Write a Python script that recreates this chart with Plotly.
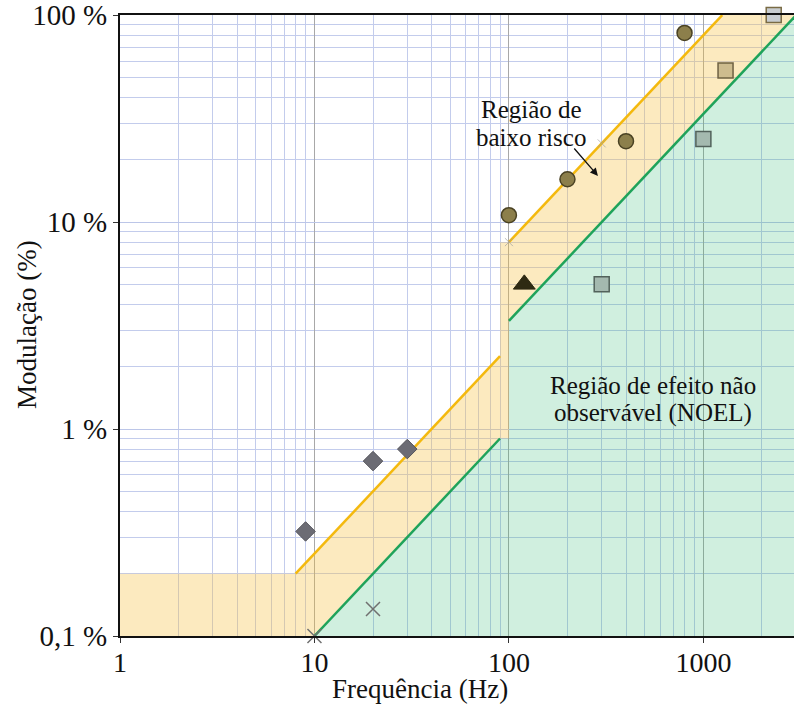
import plotly.graph_objects as go
import math

# ---- data ----
# Limit curves (frequency Hz, modulation %)
low_risk_lo_f = [8, 90]
low_risk_lo_m = [0.2, 2.25]
low_risk_hi_f = [100, 1250]
low_risk_hi_m = [8, 100]
noel_lo_f = [10, 90]
noel_lo_m = [0.1, 0.9]
noel_hi_f = [100, 3000]
noel_hi_m = [3.333, 100]

# region polygons
orange_f = [1, 1, 8, 90, 90, 100, 1250, 3000, 100, 100, 90, 10, 1]
orange_m = [0.1, 0.2, 0.2, 2.25, 8, 8, 100, 100, 3.333, 0.9, 0.9, 0.1, 0.1]
green_f = [10, 90, 100, 100, 3000, 3000, 10]
green_m = [0.1, 0.9, 0.9, 3.333, 100, 0.1, 0.1]

# measured points
diam_f = [9, 20, 30]
diam_m = [0.32, 0.70, 0.80]
cross_f = [10, 20]
cross_m = [0.1, 0.135]
faint_cross_f = [100, 300]
faint_cross_m = [8, 24]
circ_f = [100, 200, 400, 800]
circ_m = [10.8, 16.1, 24.6, 82]
tri_f = [120]
tri_m = [5.0]
sqtan_f = [1300]
sqtan_m = [54]
sqgrey_f = [300, 1000]
sqgrey_m = [5.0, 25.2]
sqtop_f = [2300]
sqtop_m = [100]

x_tickvals = [1, 10, 100, 1000]
x_ticktext = ["1", "10", "100", "1000"]
y_tickvals = [0.1, 1, 10, 100]
y_ticktext = ["0,1 %", "1 %", "10 %", "100 %"]

FONT = "Liberation Serif"
ORANGE = "#F4B90E"
GREEN = "#1FA35A"

fig = go.Figure()

fig.add_trace(go.Scatter(x=orange_f, y=orange_m, mode="lines", fill="toself",
                         fillcolor="rgba(245,190,60,0.33)", line=dict(width=0),
                         hoverinfo="skip", showlegend=False))
fig.add_trace(go.Scatter(x=green_f, y=green_m, mode="lines", fill="toself",
                         fillcolor="rgba(40,180,110,0.22)", line=dict(width=0),
                         hoverinfo="skip", showlegend=False))

for fx, my, col in [(low_risk_lo_f, low_risk_lo_m, ORANGE), (low_risk_hi_f, low_risk_hi_m, ORANGE),
                    (noel_lo_f, noel_lo_m, GREEN), (noel_hi_f, noel_hi_m, GREEN)]:
    fig.add_trace(go.Scatter(x=fx, y=my, mode="lines", line=dict(color=col, width=2.5),
                             showlegend=False, cliponaxis=False))

def pts(fx, my, symbol, size, fill, border, bw=1.5):
    fig.add_trace(go.Scatter(x=fx, y=my, mode="markers", cliponaxis=False, showlegend=False,
                             marker=dict(symbol=symbol, size=size, color=fill,
                                         line=dict(color=border, width=bw))))

pts(faint_cross_f, faint_cross_m, "x-thin-open", 8, "rgba(160,160,160,0.7)", "rgba(160,160,160,0.7)", 1)
pts(cross_f, cross_m, "x-thin-open", 14, "#707070", "#707070", 1.5)
pts(diam_f, diam_m, "diamond", 15, "#6C6C74", "#55555C", 1)
pts(circ_f, circ_m, "circle", 15, "#8C7F4B", "#4A4223", 1.5)
pts(tri_f, tri_m, "triangle-up", 19, "#2E2A12", "#2E2A12", 1)
pts(sqtan_f, sqtan_m, "square", 15, "#CDBC8E", "#6E6142", 1.5)
pts(sqgrey_f, sqgrey_m, "square", 15, "#A4B9AF", "#52625B", 1.5)
pts(sqtop_f, sqtop_m, "square", 15, "#C9CDD0", "#7A6B45", 1.5)

W, H = 794, 707
L, R, T, B = 120, 0, 15, 71

fig.update_layout(
    width=W, height=H,
    margin=dict(l=L, r=R, t=T, b=B),
    paper_bgcolor="white", plot_bgcolor="white",
    font=dict(family=FONT, size=27, color="#111"),
    showlegend=False,
)
fig.update_xaxes(type="log", range=[0, 3.466], tickvals=x_tickvals, ticktext=x_ticktext,
                 ticks="outside", ticklen=5, tickcolor="#333", automargin=False,
                 ticklabelstandoff=-5, ticklabeloverflow="allow",
                 showline=True, linecolor="#111", linewidth=2, mirror=True,
                 showgrid=True, gridcolor="#A8A8A8", gridwidth=1,
                 minor=dict(dtick="D1", showgrid=True, gridcolor="#C3CCEC", gridwidth=1, ticks=""),
                 tickfont=dict(family=FONT, size=28), zeroline=False)
fig.update_yaxes(type="log", range=[-1, 2.0005], tickvals=y_tickvals, ticktext=y_ticktext,
                 ticks="outside", ticklen=5, tickcolor="#333", automargin=False,
                 ticklabeloverflow="allow",
                 showline=True, linecolor="#111", linewidth=2,
                 showgrid=True, gridcolor="#BCC6E8", gridwidth=1,
                 minor=dict(dtick="D1", showgrid=True, gridcolor="#C3CCEC", gridwidth=1, ticks=""),
                 tickfont=dict(family=FONT, size=29), zeroline=False)

pw, ph = W - L - R, H - T - B
def px_x(p): return (p - L) / pw
def px_y(p): return (H - B - p) / ph

def txt(s, x, y, size, angle=0):
    return dict(text=s, x=px_x(x), y=px_y(y), xref="paper", yref="paper",
                showarrow=False, font=dict(size=size), textangle=angle,
                xanchor="center", yanchor="middle")

annots = [
    txt("Frequência (Hz)", 420, 689, 27),
    txt("Modulação (%)", 27, 325, 27, -90),
    txt("Região de", 531, 109, 25),
    txt("baixo risco", 531, 137, 25),
    txt("Região de efeito não", 653, 385, 25),
    txt("observável (NOEL)", 653, 413, 25),
    dict(text="", x=math.log10(287), y=math.log10(16.7), xref="x", yref="y",
         showarrow=True, ax=-25, ay=-29, arrowhead=2, arrowsize=1.2, arrowwidth=1.3, arrowcolor="#111"),
]
fig.update_layout(annotations=annots)

fig.write_html("out.html", config={"displayModeBar": False},
               post_script="document.body.style.margin='0';document.body.style.overflow='hidden';")
